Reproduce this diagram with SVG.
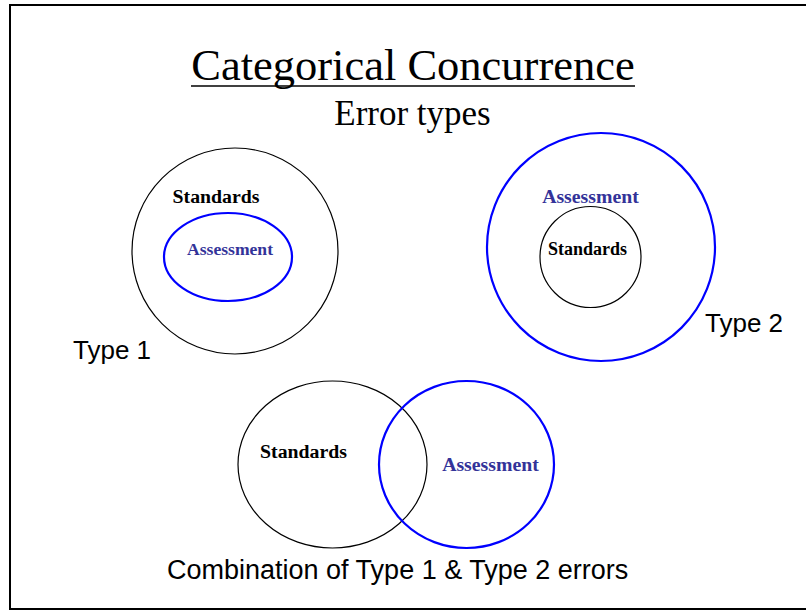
<svg xmlns="http://www.w3.org/2000/svg" width="806" height="610" viewBox="0 0 806 610">
<style>
.title{font-family:"Liberation Serif","Times New Roman",serif;fill:#000;text-anchor:middle}
.lbl{font-family:"Liberation Serif","Times New Roman",serif;font-weight:bold}
.std{fill:#000}
.asm{fill:#333399}
.cap{font-family:"Liberation Sans",Arial,sans-serif;font-size:26px;fill:#000}
.blk{fill:none;stroke:#000;stroke-width:1.2}
.blu{fill:none;stroke:#0000ff;stroke-width:2.2}
</style>
<rect x="0" y="0" width="806" height="610" fill="#fff"/>
<rect x="10" y="5" width="810" height="604" fill="none" stroke="#000" stroke-width="2"/>
<g id="title">
<text class="title" x="413" y="80" font-size="44.5">Categorical Concurrence</text>
<line x1="191" y1="86" x2="635" y2="86" stroke="#000" stroke-width="1.6"/>
<text class="title" x="412.5" y="125" font-size="35">Error types</text>
</g>
<g id="type1">
<circle class="blk" cx="235" cy="251" r="103"/>
<ellipse class="blu" cx="228" cy="257" rx="64" ry="44"/>
<text class="lbl std" x="216" y="203" font-size="19.8" text-anchor="middle">Standards</text>
<text class="lbl asm" x="230" y="255" font-size="17.6" text-anchor="middle">Assessment</text>
<text class="cap" x="73" y="359">Type 1</text>
</g>
<g id="type2">
<circle class="blu" cx="601" cy="247" r="114"/>
<circle class="blk" cx="590.5" cy="257" r="50.5"/>
<text class="lbl asm" x="590.5" y="203" font-size="19.8" text-anchor="middle">Assessment</text>
<text class="lbl std" x="587.5" y="255" font-size="18" text-anchor="middle">Standards</text>
<text class="cap" x="705" y="332">Type 2</text>
</g>
<g id="combination">
<ellipse class="blk" cx="332.5" cy="464.5" rx="94.5" ry="83.5"/>
<ellipse class="blu" cx="466.5" cy="464.5" rx="87.5" ry="83.5"/>
<text class="lbl std" x="303.5" y="458" font-size="19.8" text-anchor="middle">Standards</text>
<text class="lbl asm" x="490.5" y="471" font-size="19.8" text-anchor="middle">Assessment</text>
<text class="cap" x="167" y="579" style="font-size:27px">Combination of Type 1 &amp; Type 2 errors</text>
</g>
<g id="connectors"/>
</svg>
